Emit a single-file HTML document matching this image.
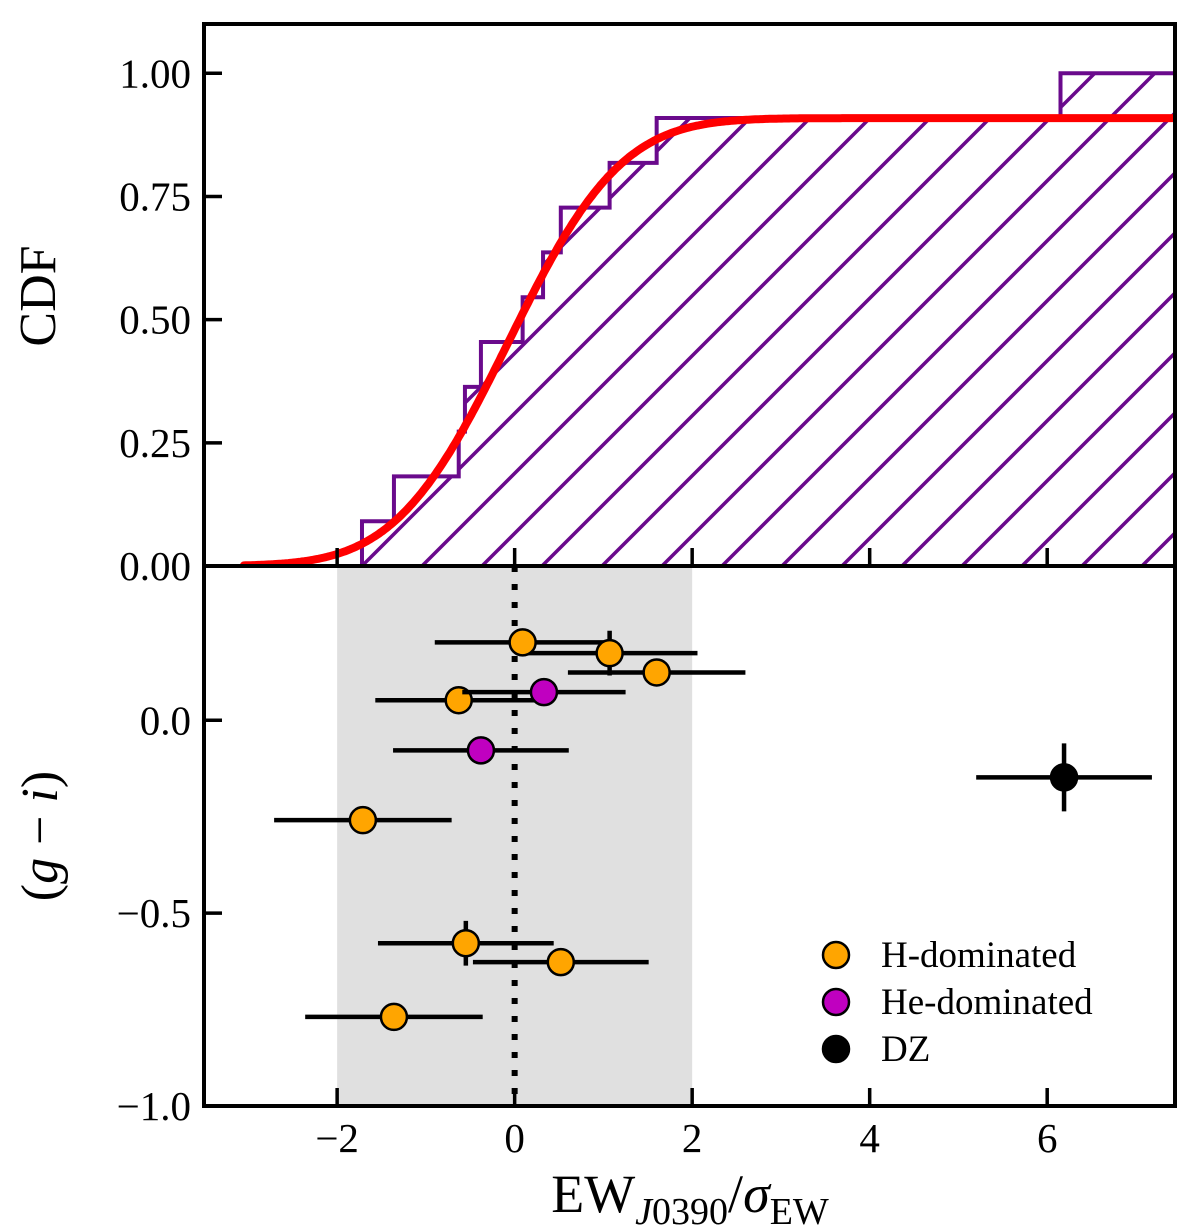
<!DOCTYPE html>
<html><head><meta charset="utf-8"><style>
body{margin:0;background:#fff}
svg{display:block}
text{font-family:"Liberation Serif",serif;fill:#000}
</style></head><body>
<svg id="c" width="1200" height="1230" viewBox="0 0 1200 1230" xmlns="http://www.w3.org/2000/svg">
<defs>
<clipPath id="topclip"><rect x="204" y="24" width="971" height="542"/></clipPath>
<clipPath id="botclip"><rect x="204" y="566" width="971" height="540"/></clipPath>
</defs>
<g id="gtop" clip-path="url(#topclip)"></g>
<g id="gbot" clip-path="url(#botclip)"></g>
<g id="axes"></g>
<text x="0" y="0" transform="translate(55,296) rotate(-90)" text-anchor="middle" font-size="52">CDF</text>
<text x="0" y="0" transform="translate(57,836) rotate(-90)" text-anchor="middle" font-size="52">(<tspan font-style="italic">g</tspan> − <tspan font-style="italic">i</tspan>)</text>
<text x="690" y="1212" text-anchor="middle" font-size="54">EW<tspan font-size="38" dy="12" font-style="italic">J</tspan><tspan font-size="38">0390</tspan><tspan dy="-12">/</tspan><tspan font-style="italic">σ</tspan><tspan font-size="38" dy="12">EW</tspan></text>
</svg>
<script>
// ---- data ----
const cdfStepX = [-1.72,-1.36,-0.63,-0.56,-0.38,0.09,0.32,0.52,1.07,1.60,6.15];
const cdfStepY = [0.0909,0.1818,0.2727,0.3636,0.4545,0.5455,0.6364,0.7273,0.8182,0.9091,1.0];
const fitMean = -0.07, fitSigma = 1.0, fitScale = 0.909, fitStart = -3.05;
const hX    = [0.09,1.07,1.60,-0.63,-1.71,-0.55,0.52,-1.36];
const hY    = [0.202,0.174,0.124,0.052,-0.259,-0.578,-0.627,-0.769];
const hXerr = [0.99,0.99,1.0,0.94,1.0,0.99,0.99,1.0];
const hYerr = [0,0.058,0,0,0,0.058,0.036,0];
const heX = [0.33,-0.38], heY=[0.073,-0.078], heXerr=[0.92,0.99], heYerr=[0,0];
const dzX=[6.19], dzY=[-0.148], dzXerr=[0.99], dzYerr=[0.088];
const xTicks=[-2,0,2,4,6];
const topTicks=[0,0.25,0.5,0.75,1.0], topTickLabels=["0.00","0.25","0.50","0.75","1.00"];
const botTicks=[0,-0.5,-1.0], botTickLabels=["0.0","\u22120.5","\u22121.0"];
// ---- scales ----
const L=204,R=1175,T=24,M=566,B=1106;
const xmin=-3.5,xmax=7.44;
const X=v=>L+(v-xmin)/(xmax-xmin)*(R-L);
const YT=v=>M-(v-0)/1.1*(M-T);
const YB=v=>M+(0.4-v)/1.4*(B-M);
const NS="http://www.w3.org/2000/svg";
function mk(tag,attrs,parent,txt){const e=document.createElementNS(NS,tag);for(const k in attrs)e.setAttribute(k,attrs[k]);if(txt!==undefined)e.textContent=txt;parent.appendChild(e);return e;}
const gTop=document.getElementById('gtop'),gBot=document.getElementById('gbot'),ax=document.getElementById('axes');
const purple="#6a0a8c";
let d=`M${X(cdfStepX[0])},${YT(0)}`;
for(let i=0;i<cdfStepX.length;i++){d+=` L${X(cdfStepX[i])},${YT(i?cdfStepY[i-1]:0)} L${X(cdfStepX[i])},${YT(cdfStepY[i])}`;}
d+=` L${R+5},${YT(cdfStepY[cdfStepY.length-1])} L${R+5},${YT(0)} Z`;
const cp=mk('clipPath',{id:'stepclip'},document.querySelector('defs'));
mk('path',{d:d},cp);
const hg=mk('g',{'clip-path':'url(#stepclip)'},gTop);


for(let x0=X(cdfStepX[0])-600;x0<R+10;x0+=60){mk('line',{x1:x0,y1:YT(0),x2:x0+600,y2:YT(0)-600,stroke:purple,'stroke-width':3.5},hg);}
const step=mk('path',{d:d,fill:'none',stroke:purple,'stroke-width':4},gTop);


function erf(x){const s=Math.sign(x);x=Math.abs(x);const t=1/(1+0.3275911*x);const y=1-(((((1.061405429*t-1.453152027)*t)+1.421413741)*t-0.284496736)*t+0.254829592)*t*Math.exp(-x*x);return s*y;}
let pd='';for(let v=fitStart;v<=xmax+0.1;v+=0.02){const c=fitScale*0.5*(1+erf((v-fitMean)/(fitSigma*Math.SQRT2)));pd+=(pd?' L':'M')+X(v).toFixed(1)+','+YT(c).toFixed(1);}
const fit=mk('path',{d:pd,fill:'none',stroke:'#ff0000','stroke-width':8,'stroke-linecap':'round'},gTop);


const band=mk('rect',{x:X(-2),y:M,width:X(2)-X(-2),height:B-M,fill:'#e0e0e0'},gBot);


const zl=mk('line',{x1:X(0),y1:M,x2:X(0),y2:B,stroke:'#000','stroke-width':6,'stroke-dasharray':'6 12'},gBot);


function series(xs,ys,xe,ye,fill,name){
  for(let i=0;i<xs.length;i++){
    const g=mk('g',{},gBot);
    
    
    mk('line',{x1:X(xs[i]-xe[i]),y1:YB(ys[i]),x2:X(xs[i]+xe[i]),y2:YB(ys[i]),stroke:'#000','stroke-width':4.5},g);
    if(ye[i]>0)mk('line',{x1:X(xs[i]),y1:YB(ys[i]+ye[i]),x2:X(xs[i]),y2:YB(ys[i]-ye[i]),stroke:'#000','stroke-width':4.5},g);
  }
  for(let i=0;i<xs.length;i++){
    const c=mk('circle',{cx:X(xs[i]),cy:YB(ys[i]),r:13,fill:fill,stroke:'#000','stroke-width':2.5},gBot);
    
    
  }
}
series(hX,hY,hXerr,hYerr,'#ffa500','h-dominated');
series(heX,heY,heXerr,heYerr,'#c000c0','he-dominated');
series(dzX,dzY,dzXerr,dzYerr,'#000','dz');
const leg=[['#ffa500','H-dominated'],['#c000c0','He-dominated'],['#000','DZ']];
const lg=mk('g',{},ax);


leg.forEach((l,i)=>{const y=955+i*47;
  const e=mk('g',{},lg);
  
  
  mk('circle',{cx:836,cy:y,r:13,fill:l[0],stroke:'#000','stroke-width':2.5},e);
  mk('text',{x:881,y:y+12,'font-size':37},e,l[1]);});
for(const [y1,y2] of [[T,M],[M,B]]){const f=mk('rect',{x:L,y:y1,width:R-L,height:y2-y1,fill:'none',stroke:'#000','stroke-width':4},ax);
  
  }
xTicks.forEach(v=>{
  mk('line',{x1:X(v),y1:M,x2:X(v),y2:M-18,stroke:'#000','stroke-width':3.5},ax);
  mk('line',{x1:X(v),y1:B,x2:X(v),y2:B-18,stroke:'#000','stroke-width':3.5},ax);
  const t=mk('text',{x:X(v),y:1152,'font-size':41,'text-anchor':'middle'},ax,v<0?'\u2212'+(-v):String(v));
  
  
});
topTicks.forEach((v,i)=>{
  mk('line',{x1:L,y1:YT(v),x2:L+18,y2:YT(v),stroke:'#000','stroke-width':3.5},ax);
  const t=mk('text',{x:191,y:YT(v)+14,'font-size':41,'text-anchor':'end'},ax,topTickLabels[i]);
  
  
});
botTicks.forEach((v,i)=>{
  mk('line',{x1:L,y1:YB(v),x2:L+18,y2:YB(v),stroke:'#000','stroke-width':3.5},ax);
  const t=mk('text',{x:191,y:YB(v)+14,'font-size':41,'text-anchor':'end'},ax,botTickLabels[i]);
  
  
});
</script>
</body></html>
